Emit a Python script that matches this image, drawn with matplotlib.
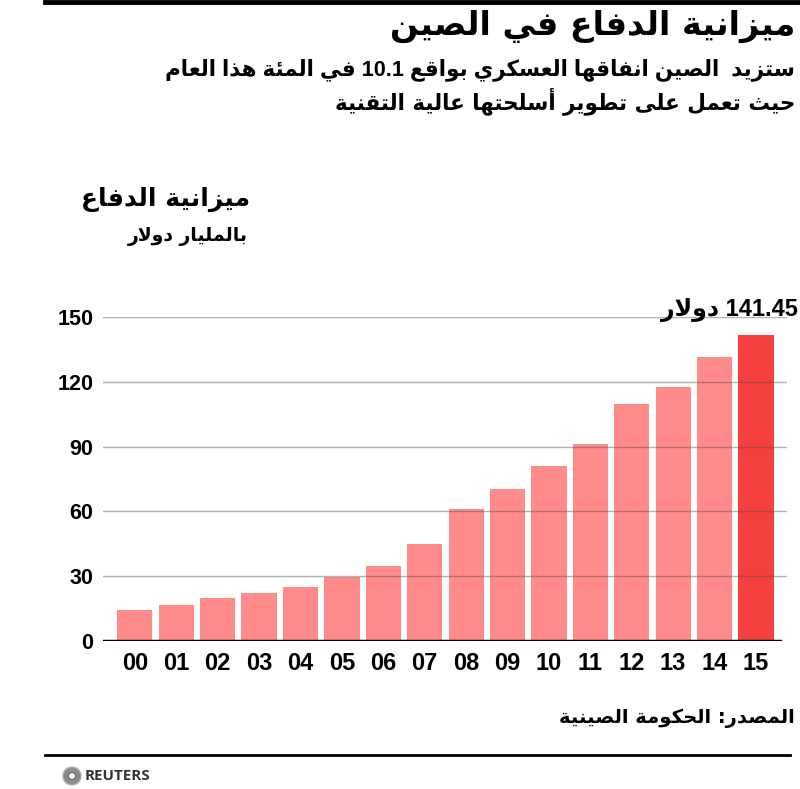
import matplotlib
matplotlib.use("Agg")
import matplotlib.pyplot as plt
from matplotlib.patches import Circle

years = ["00", "01", "02", "03", "04", "05", "06", "07",
         "08", "09", "10", "11", "12", "13", "14", "15"]
budget = [14.4, 16.7, 19.8, 22.1, 24.9, 29.5, 34.7, 44.9,
          61.0, 70.2, 80.9, 91.2, 109.7, 117.7, 131.5, 141.45]
y_ticks = [0, 30, 60, 90, 120, 150]

title = "ميزانية الدفاع في الصين"
subtitle_1 = "ستزيد  الصين انفاقها العسكري بواقع 10.1 في المئة هذا العام"
subtitle_2 = "حيث تعمل على تطوير أسلحتها عالية التقنية"
axis_title = "ميزانية الدفاع"
axis_unit = "بالمليار دولار"
last_label = "141.45 دولار"
source = "المصدر: الحكومة الصينية"

# matplotlib has no arabic shaping, so pick presentation forms by hand
FORMS_TABLE = [
    ("ء", 0xFE80, 1), ("آ", 0xFE81, 2), ("أ", 0xFE83, 2), ("ؤ", 0xFE85, 2),
    ("إ", 0xFE87, 2), ("ئ", 0xFE89, 4), ("ا", 0xFE8D, 2), ("ب", 0xFE8F, 4),
    ("ة", 0xFE93, 2), ("ت", 0xFE95, 4), ("ث", 0xFE99, 4), ("ج", 0xFE9D, 4),
    ("ح", 0xFEA1, 4), ("خ", 0xFEA5, 4), ("د", 0xFEA9, 2), ("ذ", 0xFEAB, 2),
    ("ر", 0xFEAD, 2), ("ز", 0xFEAF, 2), ("س", 0xFEB1, 4), ("ش", 0xFEB5, 4),
    ("ص", 0xFEB9, 4), ("ض", 0xFEBD, 4), ("ط", 0xFEC1, 4), ("ظ", 0xFEC5, 4),
    ("ع", 0xFEC9, 4), ("غ", 0xFECD, 4), ("ف", 0xFED1, 4), ("ق", 0xFED5, 4),
    ("ك", 0xFED9, 4), ("ل", 0xFEDD, 4), ("م", 0xFEE1, 4), ("ن", 0xFEE5, 4),
    ("ه", 0xFEE9, 4), ("و", 0xFEED, 2), ("ى", 0xFEEF, 2), ("ي", 0xFEF1, 4),
]
FORMS = {c: (base, n) for c, base, n in FORMS_TABLE}
LAM_ALEF = {"ا": (0xFEFB, 0xFEFC), "أ": (0xFEF7, 0xFEF8),
            "إ": (0xFEF9, 0xFEFA), "آ": (0xFEF5, 0xFEF6)}


def joins_next(u):
    if u[0] == "LA":
        return False
    return u[1] in FORMS and FORMS[u[1]][1] == 4


def joins_prev(u):
    if u[0] == "LA":
        return True
    return u[1] in FORMS and FORMS[u[1]][1] >= 2


def shape(word):
    units = []
    i = 0
    while i < len(word):
        if word[i] == "ل" and i + 1 < len(word) and word[i + 1] in LAM_ALEF:
            units.append(("LA", word[i + 1]))
            i += 2
        else:
            units.append(("C", word[i]))
            i += 1
    out = []
    for k, u in enumerate(units):
        jp = k > 0 and joins_next(units[k - 1]) and joins_prev(u)
        jn = k + 1 < len(units) and joins_next(u) and joins_prev(units[k + 1])
        if u[0] == "LA":
            out.append(chr(LAM_ALEF[u[1]][1 if jp else 0]))
        elif u[1] in FORMS:
            base, n = FORMS[u[1]]
            if n == 4:
                idx = 3 if (jp and jn) else 1 if jp else 2 if jn else 0
            elif n == 2:
                idx = 1 if jp else 0
            else:
                idx = 0
            out.append(chr(base + idx))
        else:
            out.append(u[1])
    return "".join(out)


def rtl(text):
    words = text.split(" ")[::-1]
    res = []
    for w in words:
        if any("\u0600" <= c <= "\u06FF" for c in w):
            res.append(shape(w)[::-1])
        else:
            res.append(w)
    return " ".join(res)


AR = ["DejaVu Sans"]
NUM = ["Liberation Sans", "DejaVu Sans"]

fig = plt.figure(figsize=(8, 7.89), dpi=100)
W, H = 800, 789

ax = fig.add_axes([103 / W, (H - 641) / H, 684 / W, 324 / H])
colors = ["#ff8a8a"] * (len(budget) - 1) + ["#f5403f"]
x = list(range(len(years)))
ax.bar(x, budget, width=0.85, color=colors, zorder=1)
for t in y_ticks[1:]:
    ax.axhline(t, color="#555555", lw=1, alpha=0.45, zorder=2)
ax.axhline(0, color="black", lw=2.5, xmax=0.99, zorder=3)
ax.set_ylim(0, 150)
ax.set_xlim(-0.77, 15.75)
ax.set_yticks(y_ticks)
ax.set_yticklabels([str(t) for t in y_ticks], family=NUM, fontweight="bold",
                   fontsize=15.5)
ax.set_xticks(x)
ax.set_xticklabels(years, family=NUM, fontweight="bold", fontsize=17)
ax.tick_params(length=0)
ax.tick_params(axis="y", pad=7)
ax.tick_params(axis="x", pad=8)
for s in ax.spines.values():
    s.set_visible(False)

# header
fig.add_artist(plt.Line2D([45 / W, 1], [1 - 2 / H, 1 - 2 / H], color="black",
                          lw=3.5))
fig.text(795 / W, 1 - 26 / H, rtl(title), ha="right", va="center",
         family=AR, fontweight="bold", fontsize=24)
fig.text(795 / W, 1 - 70 / H, rtl(subtitle_1), ha="right", va="center",
         family=NUM, fontweight="bold", fontsize=15.5)
fig.text(795 / W, 1 - 101 / H, rtl(subtitle_2), ha="right", va="center",
         family=AR, fontweight="bold", fontsize=15.5)

fig.text(250 / W, 1 - 199 / H, rtl(axis_title), ha="right", va="center",
         family=AR, fontweight="bold", fontsize=18)
fig.text(248 / W, 1 - 237 / H, rtl(axis_unit), ha="right", va="center",
         family=AR, fontweight="bold", fontsize=13.5)

fig.text(798 / W, 1 - 310 / H, rtl(last_label), ha="right", va="center",
         family=NUM, fontweight="bold", fontsize=17)

fig.text(795 / W, 1 - 718 / H, rtl(source), ha="right", va="center",
         family=AR, fontweight="bold", fontsize=14)

# footer
fig.add_artist(plt.Line2D([45 / W, 790 / W], [1 - 755 / H, 1 - 755 / H],
                          color="black", lw=2))
fig.add_artist(Circle((72 / W, 1 - 776 / H), 9 / W, transform=fig.transFigure,
                      facecolor="#8a8a8a", edgecolor="#aaaaaa", lw=1))
fig.add_artist(Circle((72 / W, 1 - 776 / H), 3.5 / W,
                      transform=fig.transFigure, facecolor="white",
                      edgecolor="#666666", lw=0.8))
fig.text(85 / W, 1 - 776 / H, "REUTERS", ha="left", va="center",
         family=["Open Sans", "DejaVu Sans"], fontweight="bold", fontsize=11,
         color="#333333")

fig.savefig("out.png", dpi=100, facecolor="white")
